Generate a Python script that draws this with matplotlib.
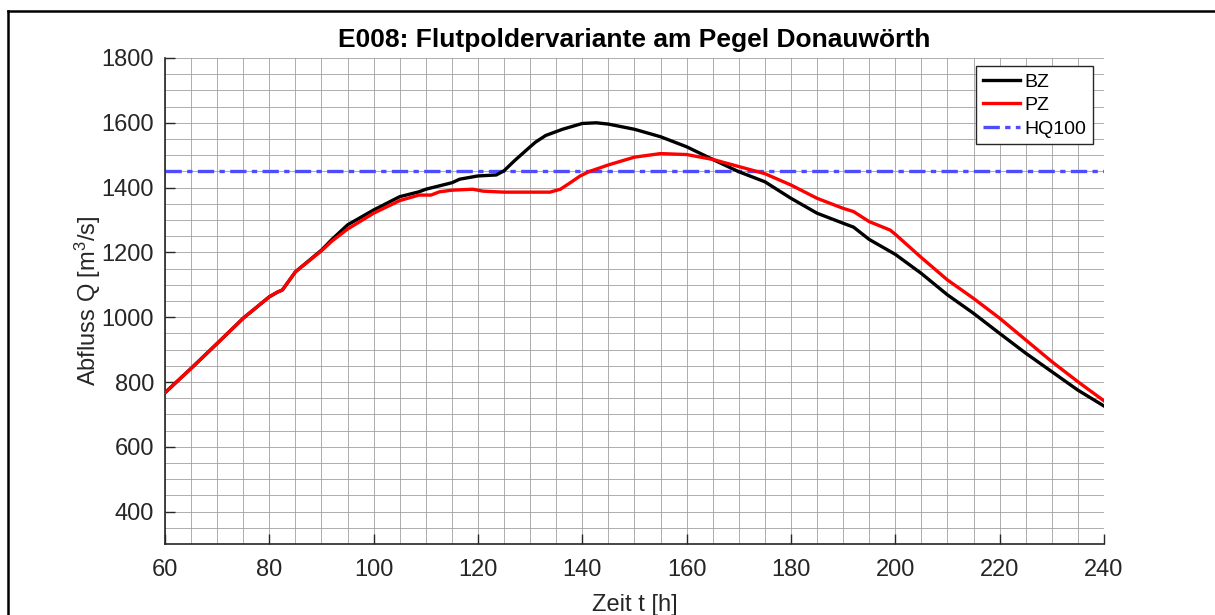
import numpy as np
import matplotlib
matplotlib.use("Agg")
import matplotlib.pyplot as plt
from matplotlib import font_manager as fm
from matplotlib.lines import Line2D
from matplotlib.ticker import MultipleLocator

plt.rcParams['font.family'] = ['Liberation Sans', 'DejaVu Sans']
plt.rcParams['mathtext.default'] = 'regular'

# Liberation Sans Bold direkt suchen (sonst kommt evtl. die Narrow-Variante)
bold_file = None
for f in fm.fontManager.ttflist:
    if f.name == 'Liberation Sans' and f.weight in (700, 'bold') and f.style == 'normal':
        bold_file = f.fname
title_font = fm.FontProperties(fname=bold_file, size=19) if bold_file else \
    fm.FontProperties(family='Liberation Sans', weight='bold', size=19)

# Ganglinien am Pegel Donauwoerth
t_bz = [60, 65, 70, 75, 80, 81.5, 82.5, 85, 90, 92, 95, 100, 105, 108.7, 110, 115, 116.5,
        120, 123.5, 125, 127, 129.3, 131, 133, 136.2, 140, 142.7, 145, 150, 155, 160,
        165, 170, 175, 180, 185, 190, 192, 195, 200, 205, 210, 215, 220, 225, 230, 235, 240]
q_bz = [767, 842, 919, 997, 1063, 1077, 1084, 1140, 1207, 1240, 1285, 1331, 1372, 1387, 1395,
        1415, 1426, 1436, 1439, 1452, 1483, 1516, 1540, 1561, 1580, 1598, 1600, 1596, 1580,
        1557, 1526, 1487, 1449, 1418, 1367, 1321, 1290, 1278, 1240, 1194, 1135, 1069, 1012,
        950, 889, 832, 775, 726]

t_pz = [60, 65, 70, 75, 80, 81.5, 82.5, 85, 90, 92, 95, 100, 105, 108.7, 111, 112.6, 115,
        119, 121, 125, 130, 133.8, 135.8, 137.5, 139.6, 141.4, 145, 150, 155, 160, 165, 170,
        175, 180, 185, 190, 192, 195, 199, 200, 205, 210, 215, 220, 225, 230, 235, 240]
q_pz = [767, 842, 919, 997, 1063, 1077, 1084, 1140, 1205, 1235, 1272, 1321, 1360, 1377, 1377,
        1387, 1392, 1395, 1389, 1386, 1386, 1386, 1395, 1413, 1436, 1450, 1470, 1494, 1505,
        1502, 1487, 1465, 1443, 1408, 1367, 1336, 1326, 1295, 1269, 1256, 1184, 1115, 1058,
        997, 930, 863, 801, 742]

hq100 = 1450

fig = plt.figure(figsize=(12.15, 6.15), dpi=100)
ax = fig.add_axes([0.1358, 0.1154, 0.7728, 0.7903])

ax.plot(t_bz, q_bz, color='black', lw=2.4, label='BZ', zorder=3)
ax.plot(t_pz, q_pz, color='#ff0000', lw=2.4, label='PZ', zorder=4)
ax.axhline(hq100, color='#4d4dff', lw=2.4, linestyle=(0, (4.9, 1.6, 1.6, 1.6)),
           label='HQ100', zorder=2)

ax.set_xlim(60, 240)
ax.set_ylim(300, 1800)
ax.xaxis.set_major_locator(MultipleLocator(20))
ax.xaxis.set_minor_locator(MultipleLocator(5))
ax.yaxis.set_minor_locator(MultipleLocator(50))
ax.set_yticks(range(400, 1801, 200))

ax.grid(which='both', color='#a0a0a0', lw=0.6, zorder=0)
ax.set_axisbelow(True)
ax.tick_params(which='major', direction='in', length=7, width=1, labelsize=17,
               colors='#262626')
ax.tick_params(axis='x', pad=11)
ax.tick_params(axis='y', pad=8)
ax.tick_params(which='minor', length=0)
for s in ['top', 'right']:
    ax.spines[s].set_visible(False)
for s in ['left', 'bottom']:
    ax.spines[s].set_color('#262626')
    ax.spines[s].set_linewidth(1.2)

ax.set_title('E008: Flutpoldervariante am Pegel Donauwörth', fontproperties=title_font,
             pad=8)
ax.set_xlabel('Zeit t [h]', fontsize=17, color='#262626', labelpad=9)
ax.set_ylabel('Abfluss Q [m$^3$/s]', fontsize=17, color='#262626', labelpad=-1)

leg = ax.legend(loc='upper right', bbox_to_anchor=(0.988, 0.983), fontsize=14,
                fancybox=False, framealpha=1, edgecolor='#262626',
                handlelength=1.9, handletextpad=0.2, borderpad=0.35,
                labelspacing=0.3, borderaxespad=0)
leg.get_frame().set_linewidth(1.0)

# Rahmen links und oben
fig.add_artist(Line2D([7.5 / 1215, 7.5 / 1215], [0, 1 - 10.5 / 615], color='black',
                      lw=1.8, transform=fig.transFigure))
fig.add_artist(Line2D([7.5 / 1215, 1], [1 - 10.5 / 615, 1 - 10.5 / 615], color='black',
                      lw=1.8, transform=fig.transFigure))

fig.savefig('out.png', dpi=100)
